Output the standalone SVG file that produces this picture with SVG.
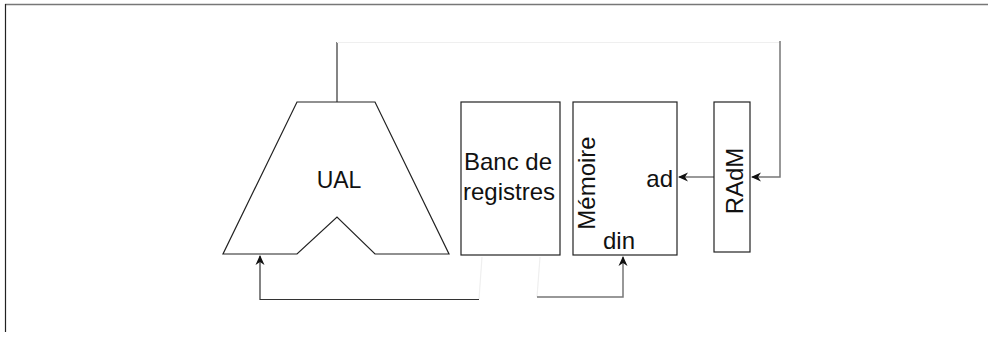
<svg xmlns="http://www.w3.org/2000/svg" width="989" height="337" viewBox="0 0 989 337">
<style>
.box{fill:#fff;stroke:#222;stroke-width:1.2}
.txt{font-family:"Liberation Sans",Arial,sans-serif;font-size:24px;fill:#111}
.c{fill:none;stroke:#333;stroke-width:1.2}
.g{fill:none;stroke:#777;stroke-width:1.5}
.f{fill:none;stroke:#efefef;stroke-width:1.2}
</style>
<defs>
<marker id="ah" viewBox="0 0 10 10" refX="9" refY="5" markerWidth="10" markerHeight="10" markerUnits="userSpaceOnUse" orient="auto">
<path d="M0,0.5 L10,5 L0,9.5 L3,5 Z" fill="#111"/>
</marker>
</defs>
<rect width="989" height="337" fill="#fff"/>
<g id="frame">
<line x1="5" y1="4.5" x2="988" y2="4.5" stroke="#777" stroke-width="1.5"/>
<line x1="5.5" y1="4" x2="5.5" y2="332" stroke="#222" stroke-width="1.2"/>
</g>
<g id="connectors">
<line class="c" x1="337" y1="102" x2="337" y2="42"/>
<line class="f" x1="337" y1="42.5" x2="780" y2="42.5"/>
<polyline class="g" points="780,41 780,177 752,177" marker-end="url(#ah)"/>
<line class="g" x1="714" y1="177" x2="679" y2="177" marker-end="url(#ah)"/>
<polyline class="c" points="479,299.5 260,299.5 260,256" marker-end="url(#ah)"/>
<line class="f" x1="479" y1="299" x2="482" y2="257"/>
<line class="f" x1="537" y1="297" x2="540" y2="257"/>
<polyline class="g" points="537,297 623,297 623,257" marker-end="url(#ah)"/>
</g>
<g id="ual">
<polygon class="box" points="297,102 375,102 449,254 375,254 337,217 297,254 223,254"/>
<text class="txt" x="339" y="188" text-anchor="middle" style="font-size:23px">UAL</text>
</g>
<g id="banc">
<rect class="box" x="461" y="102" width="99" height="153"/>
<text class="txt" x="508" y="170" text-anchor="middle">Banc de</text>
<text class="txt" x="509" y="200" text-anchor="middle">registres</text>
</g>
<g id="memoire">
<rect class="box" x="573" y="102" width="104" height="153"/>
<text class="txt" transform="translate(595,183) rotate(-90)" text-anchor="middle">Mémoire</text>
<text class="txt" x="673" y="187" text-anchor="end">ad</text>
<text class="txt" x="619" y="249" text-anchor="middle">din</text>
</g>
<g id="radm">
<rect class="box" x="714" y="102" width="36" height="150"/>
<text class="txt" transform="translate(743,181) rotate(-90)" text-anchor="middle">RAdM</text>
</g>
</svg>
